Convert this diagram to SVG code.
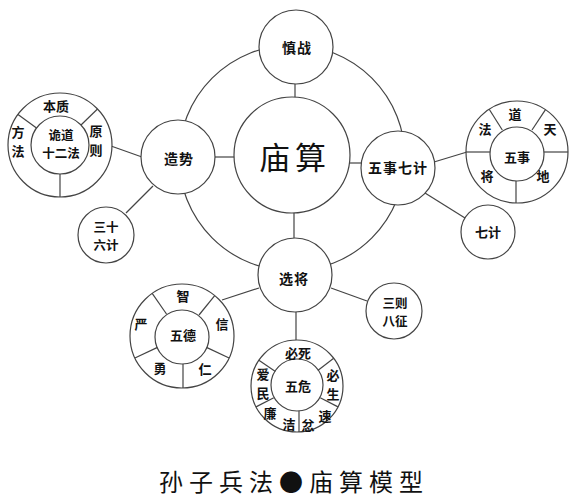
<svg xmlns="http://www.w3.org/2000/svg" width="571" height="500" viewBox="0 0 571 500">
<style>
.c{fill:#fff;stroke:#444;stroke-width:1.2}
.l{stroke:#444;stroke-width:1.2;fill:none}
text{font-family:"Noto Sans CJK SC","Noto Sans",sans-serif;fill:#111;text-anchor:middle;dominant-baseline:central}
.n{font-size:14px;font-weight:700;letter-spacing:1px}
.s{font-size:13px;font-weight:700}
.s2{font-size:12.5px;font-weight:700}
.big{font-size:31px;letter-spacing:5px}
.t{font-size:24px;letter-spacing:6px}
</style>
<rect width="571" height="500" fill="#fff"/>
<g id="connectors" class="l">
<circle cx="292" cy="158" r="113"/>
<line x1="295" y1="84" x2="295" y2="98"/>
<line x1="215" y1="157" x2="235" y2="157"/>
<line x1="349" y1="163" x2="362" y2="163"/>
<line x1="294" y1="212" x2="294" y2="238"/>
<line x1="111" y1="146" x2="142" y2="157"/>
<line x1="153" y1="186" x2="126" y2="213"/>
<line x1="434" y1="162" x2="467" y2="152"/>
<line x1="425" y1="193" x2="465" y2="218"/>
<line x1="259" y1="288" x2="222" y2="300"/>
<line x1="331" y1="288" x2="367" y2="301"/>
<line x1="296" y1="312" x2="296" y2="340"/>
</g>
<g id="center">
<circle class="c" cx="292" cy="155" r="58"/>
<text class="big" x="295" y="155">庙算</text>
</g>
<g id="shenzhan">
<circle class="c" cx="296" cy="47" r="37"/>
<text class="n" x="297" y="47">慎战</text>
</g>
<g id="zaoshi">
<circle class="c" cx="178" cy="157" r="37"/>
<text class="n" x="179" y="158">造势</text>
</g>
<g id="wushiqiji">
<circle class="c" cx="398" cy="168" r="37"/>
<text class="n" x="398" y="167">五事七计</text>
</g>
<g id="xuanjiang">
<circle class="c" cx="295" cy="275" r="37"/>
<text class="n" x="294" y="278">选将</text>
</g>
<g id="guidao">
<circle class="c" cx="60" cy="145" r="52"/>
<circle class="c" cx="60" cy="145" r="29"/>
<g class="l">
<line x1="36.5" y1="128" x2="18" y2="114.5"/>
<line x1="81" y1="125" x2="97.5" y2="109"/>
<line x1="60" y1="174" x2="60" y2="197"/>
</g>
<text class="s" x="56" y="105">本质</text>
<text class="s" x="18" y="131">方</text>
<text class="s" x="18" y="150">法</text>
<text class="s" x="96" y="130">原</text>
<text class="s" x="96" y="149">则</text>
<text class="s2" x="61" y="134">诡道</text>
<text class="s2" x="61" y="152">十二法</text>
</g>
<g id="sanshiliuji">
<circle class="c" cx="106" cy="235" r="28"/>
<text class="s2" x="106" y="226">三十</text>
<text class="s2" x="106" y="244">六计</text>
</g>
<g id="wushi">
<circle class="c" cx="517" cy="152" r="51"/>
<circle class="c" cx="517" cy="154" r="27"/>
<g class="l">
<line x1="502.3" y1="130" x2="489.2" y2="109.2"/>
<line x1="532" y1="130" x2="545.5" y2="109.7"/>
<line x1="544" y1="152" x2="568" y2="152"/>
<line x1="516" y1="181" x2="516" y2="203"/>
<line x1="490" y1="152" x2="466" y2="152"/>
</g>
<text class="s" x="515" y="113">道</text>
<text class="s" x="550" y="128">天</text>
<text class="s" x="485" y="128">法</text>
<text class="s" x="487" y="175">将</text>
<text class="s" x="543" y="175">地</text>
<text class="s" x="517" y="156">五事</text>
</g>
<g id="qiji">
<circle class="c" cx="488" cy="232" r="27"/>
<text class="s" x="488" y="231">七计</text>
</g>
<g id="wude">
<circle class="c" cx="182" cy="336" r="52"/>
<circle class="c" cx="182" cy="337" r="27"/>
<g class="l">
<line x1="166.5" y1="314" x2="152.2" y2="293.4"/>
<line x1="199" y1="315" x2="214.7" y2="295.6"/>
<line x1="206.5" y1="347.4" x2="229.1" y2="358"/>
<line x1="183" y1="364" x2="183" y2="388"/>
<line x1="157.5" y1="347.4" x2="134.9" y2="358"/>
</g>
<text class="s" x="183" y="295">智</text>
<text class="s" x="222" y="323">信</text>
<text class="s" x="205" y="368">仁</text>
<text class="s" x="160" y="367">勇</text>
<text class="s" x="141" y="323">严</text>
<text class="s" x="183" y="334">五德</text>
</g>
<g id="sanze">
<circle class="c" cx="394" cy="311" r="28"/>
<text class="s2" x="395" y="302">三则</text>
<text class="s2" x="395" y="320">八征</text>
</g>
<g id="wuwei">
<circle class="c" cx="297" cy="386" r="46"/>
<circle class="c" cx="297" cy="385" r="26"/>
<g class="l">
<line x1="275.4" y1="371.5" x2="258.9" y2="360.3"/>
<line x1="317.8" y1="370.4" x2="333.7" y2="358.3"/>
<line x1="320.2" y1="397.8" x2="338" y2="406.9"/>
<line x1="299" y1="411" x2="299" y2="432"/>
<line x1="273.8" y1="397.8" x2="256" y2="406.9"/>
</g>
<text class="s" x="298" y="352">必死</text>
<text class="s" x="333" y="374">必</text>
<text class="s" x="333" y="393">生</text>
<text class="s" x="325" y="415">速</text>
<text class="s" x="308" y="424">忿</text>
<text class="s" x="289" y="423">洁</text>
<text class="s" x="270" y="412">廉</text>
<text class="s" x="263" y="373">爱</text>
<text class="s" x="263" y="392">民</text>
<text class="s" x="298" y="385">五危</text>
</g>
<g id="title">
<text class="t" x="294" y="480">孙子兵法●庙算模型</text>
</g>
</svg>
